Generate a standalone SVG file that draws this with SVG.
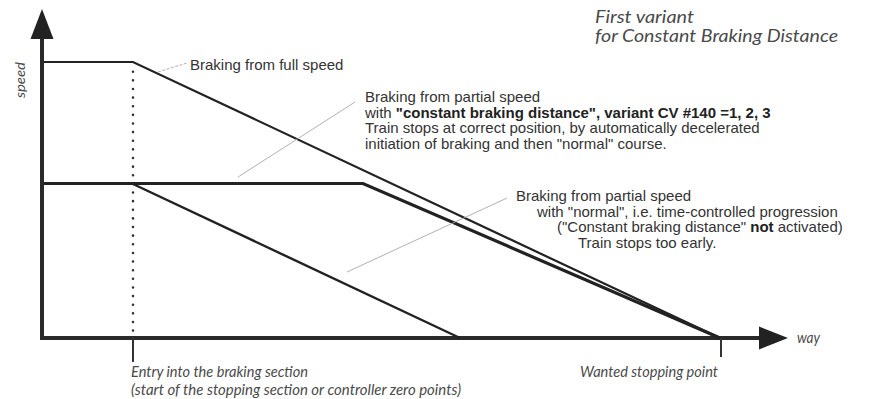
<svg xmlns="http://www.w3.org/2000/svg" width="883" height="399" viewBox="0 0 883 399">
  <style>
    .axis { stroke: #2a2a2a; stroke-width: 4; fill: none; }
    .curve { stroke: #222; fill: none; stroke-linejoin: miter; }
    .leader { stroke: #a8a8a8; stroke-width: 0.9; fill: none; }
    .txt { font-family: "Liberation Sans", Arial, sans-serif; font-size: 15px; fill: #333; }
    .b { font-weight: bold; fill: #222; }
    .lab { font-family: Lato, "Open Sans", sans-serif; font-style: italic; fill: #4a4a4a; }
  </style>
  <rect width="883" height="399" fill="#ffffff"/>

  <g id="axes">
    <path class="axis" d="M42,340 L42,14"/>
    <polygon points="42,9 53.5,39 30.5,39" fill="#222"/>
    <path class="axis" d="M40,338 L762,338"/>
    <polygon points="788,338 759,326.5 759,349.5" fill="#222"/>
    <line x1="133" y1="338" x2="133" y2="362" stroke="#333" stroke-width="2"/>
    <line x1="721" y1="338" x2="721" y2="357" stroke="#333" stroke-width="2"/>
    <line x1="133" y1="71.7" x2="133" y2="332" stroke="#333" stroke-width="2.6" stroke-linecap="round" stroke-dasharray="0 8.63"/>
  </g>

  <g id="connectors">
    <polyline id="full-speed" class="curve" stroke-width="2.2" points="44,62 133,62 720,338"/>
    <polyline id="constant" class="curve" stroke-width="3.2" points="44,183.5 363,183.5 720,338"/>
    <line id="normal" class="curve" stroke-width="2.4" x1="133" y1="184" x2="460" y2="338"/>
    <line class="leader" x1="158" y1="72" x2="187" y2="63" stroke-dasharray="3 1.5"/>
    <line class="leader" x1="238" y1="177" x2="355" y2="102"/>
    <line class="leader" x1="347" y1="272" x2="507" y2="198"/>
  </g>

  <g id="title">
    <text class="lab" font-size="16.5" x="595" y="23" textLength="99" lengthAdjust="spacingAndGlyphs">First variant</text>
    <text class="lab" font-size="16.5" x="595" y="42" textLength="243" lengthAdjust="spacingAndGlyphs">for Constant Braking Distance</text>
  </g>

  <g id="label-full">
    <text class="txt" x="190" y="70">Braking from full speed</text>
  </g>

  <g id="label-constant">
    <text class="txt" x="365" y="102">Braking from partial speed</text>
    <text class="txt" x="365" y="117.5">with <tspan class="b">"constant braking distance", variant CV #140 =1, 2, 3</tspan></text>
    <text class="txt" x="365" y="133">Train stops at correct position, by automatically decelerated</text>
    <text class="txt" x="365" y="148.5">initiation of braking and then "normal" course.</text>
  </g>

  <g id="label-normal">
    <text class="txt" x="516" y="201">Braking from partial speed</text>
    <text class="txt" x="537" y="216.5">with "normal", i.e. time-controlled progression</text>
    <text class="txt" x="557" y="232">("Constant braking distance" <tspan class="b">not</tspan> activated)</text>
    <text class="txt" x="578" y="248">Train stops too early.</text>
  </g>

  <g id="axis-labels">
    <text class="lab" font-size="14" transform="translate(25,98) rotate(-90)" textLength="36" lengthAdjust="spacingAndGlyphs">speed</text>
    <text class="lab" font-size="15" x="797" y="343" textLength="23" lengthAdjust="spacingAndGlyphs">way</text>
    <text class="lab" font-size="15" x="131" y="377" textLength="177" lengthAdjust="spacingAndGlyphs">Entry into the braking section</text>
    <text class="lab" font-size="15" x="131" y="395" textLength="330" lengthAdjust="spacingAndGlyphs">(start of the stopping section or controller zero points)</text>
    <text class="lab" font-size="15" x="580" y="377" textLength="138" lengthAdjust="spacingAndGlyphs">Wanted stopping point</text>
  </g>
</svg>
